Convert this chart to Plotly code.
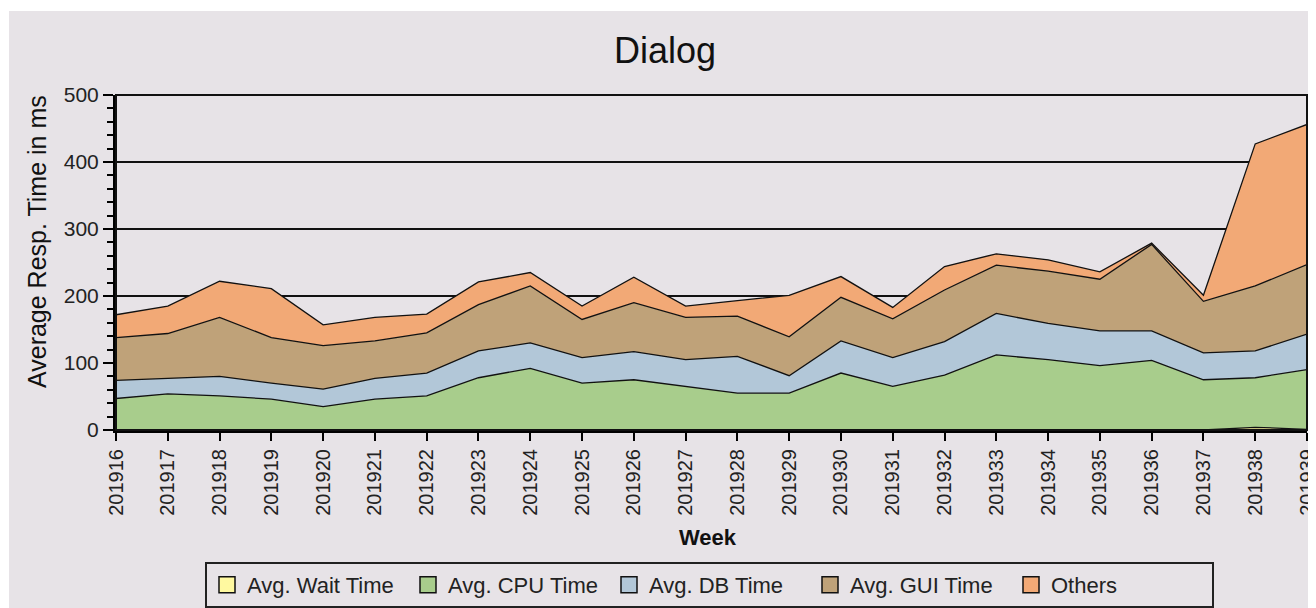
import plotly.graph_objects as go

weeks = ["201916", "201917", "201918", "201919", "201920", "201921", "201922", "201923",
         "201924", "201925", "201926", "201927", "201928", "201929", "201930", "201931",
         "201932", "201933", "201934", "201935", "201936", "201937", "201938", "201939"]

wait_time = [0, 0, 0, 0, 0, 0, 0, 0, 0, 0, 0, 0, 0, 0, 0, 0, 0, 0, 0, 0, 0, 0, 4, 1]
cpu_time = [47, 54, 51, 46, 35, 46, 51, 78, 92, 70, 75, 65, 55, 55, 85, 65, 82, 112, 105, 96, 104, 75, 74, 89]
db_time = [27, 23, 29, 24, 26, 31, 34, 40, 38, 38, 42, 40, 55, 26, 48, 43, 50, 62, 54, 52, 44, 40, 40, 53]
gui_time = [64, 67, 88, 68, 65, 56, 60, 69, 85, 57, 73, 63, 60, 58, 65, 58, 77, 72, 78, 77, 129, 77, 97, 104]
others = [34, 41, 54, 73, 31, 35, 28, 34, 20, 20, 38, 17, 23, 62, 31, 17, 35, 17, 17, 11, 2, 9, 212, 209]

series_names = ["Avg. Wait Time", "Avg. CPU Time", "Avg. DB Time", "Avg. GUI Time", "Others"]
series_values = [wait_time, cpu_time, db_time, gui_time, others]
series_colors = ["#FFF9A0", "#A8CD8C", "#B2C7D8", "#BFA279", "#F2A976"]

BG = "#E7E3E7"

# page offset from default body margin
OFF = 8
PAGE_W, PAGE_H = 1316, 608
W, H = PAGE_W - OFF, PAGE_H - OFF
# plot area in page pixels
PL, PR, PT, PB = 116, 1307, 95, 430
L = PL - OFF
R = PAGE_W - PR
T = PT - OFF
B = PAGE_H - PB
pw = W - L - R
ph = H - T - B


def px_x(p):
    return (p - OFF - L) / pw


def px_y(p):
    return (PB - p) / ph


fig = go.Figure()
for name, vals, color in zip(series_names, series_values, series_colors):
    fig.add_trace(go.Scatter(
        x=weeks, y=vals, name=name, mode="lines",
        stackgroup="one", fillcolor=color,
        line=dict(color="#111111", width=1.3),
        showlegend=False,
    ))
for name, color in zip(series_names, series_colors):
    fig.add_trace(go.Scatter(
        x=[None], y=[None], name=name, mode="markers",
        marker=dict(symbol="square", size=18, color=color,
                    line=dict(color="#111111", width=1.5)),
        showlegend=True, hoverinfo="skip",
    ))

fig.update_layout(
    width=W, height=H,
    margin=dict(l=L, r=R, t=T, b=B, autoexpand=False),
    paper_bgcolor="white",
    plot_bgcolor=BG,
    font=dict(family="Liberation Sans, Arial, sans-serif", color="#1a1a1a"),
    title=dict(text="Dialog", x=(665 - OFF) / W, xref="container", xanchor="center",
               y=1 - (50 - OFF) / H, yref="container", yanchor="middle",
               font=dict(size=36, color="#111111")),
    showlegend=True,
    legend=dict(
        orientation="h", x=px_x(709.5), xanchor="center",
        xref="paper", y=1 - (562 - OFF) / H, yref="container", yanchor="top",
        bgcolor=BG, bordercolor="#222222", borderwidth=2,
        font=dict(size=22, color="#222222"),
        entrywidth=156, entrywidthmode="pixels",
        traceorder="normal",
    ),
    shapes=[
        dict(type="rect", xref="paper", yref="paper",
             x0=px_x(9), x1=px_x(PAGE_W + 5), y0=px_y(PAGE_H + 5), y1=px_y(11),
             fillcolor=BG, line=dict(width=0), layer="below"),
        dict(type="rect", xref="paper", yref="paper",
             x0=0, x1=1, y0=0, y1=1,
             line=dict(color="#111111", width=2), layer="above"),
    ],
    annotations=[
        dict(text="Average Resp. Time in ms", xref="paper", yref="paper",
             x=px_x(37), y=px_y(242), textangle=-90, showarrow=False,
             xanchor="center", yanchor="middle",
             font=dict(size=25, color="#111111")),
        dict(text="<b>Week</b>", xref="paper", yref="paper",
             x=px_x(708), y=px_y(537), showarrow=False,
             xanchor="center", yanchor="middle",
             font=dict(size=22, color="#111111")),
    ],
)

fig.update_xaxes(
    type="category", range=[0, len(weeks) - 1], automargin=False,
    showline=True, linecolor="#000000", linewidth=3,
    ticks="outside", ticklen=8, tickwidth=2, tickcolor="#000000",
    tickangle=-90, tickfont=dict(size=20, color="#222222"),
    showgrid=False, zeroline=False,
)
fig.update_yaxes(
    range=[0, 500], dtick=100, tick0=0, automargin=False,
    showline=True, linecolor="#000000", linewidth=3,
    ticks="outside", ticklen=10, tickwidth=2, tickcolor="#000000",
    tickfont=dict(size=21, color="#222222"),
    showgrid=True, gridcolor="#111111", gridwidth=1.5,
    zeroline=False,
    minor=dict(dtick=20, ticks="outside", ticklen=6, tickwidth=1.5,
               tickcolor="#000000", showgrid=False),
)

fig.write_html("out.html")
